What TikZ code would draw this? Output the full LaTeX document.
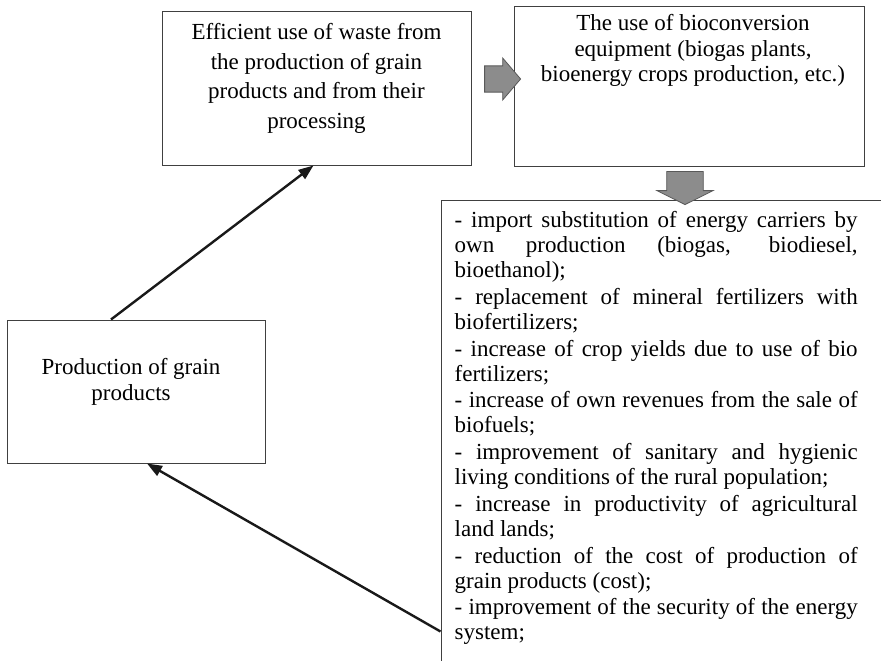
\documentclass[tikz,border=0pt]{standalone}
\usepackage{fontspec}
\setmainfont{Liberation Serif}
\usepackage{tikz}
\usetikzlibrary{arrows.meta,shapes.arrows,positioning}

\begin{document}
\begin{tikzpicture}[x=1pt,y=-1pt,>={Triangle[length=15pt,width=11pt]}]
       \tikzstyle{box}=[draw=black!75, line width=1pt, inner sep=0pt]
       \tikzstyle{boxtext}=[inner sep=0pt, align=center, font=\fontsize{23}{25.5}\selectfont]
       \tikzstyle{listtext}=[inner sep=0pt, text width=403pt, align=justify,
             font=\fontsize{23}{25}\selectfont,
             execute at begin node={\parindent=0pt\parskip=1.7pt\emergencystretch=10pt}]
       \tikzstyle{blockarrow}=[single arrow, draw=black!65, fill=black!45, line width=0.8pt, inner xsep=0pt]
       \tikzstyle{link}=[->, line width=2.4pt, black!90]

       \useasboundingbox (0,0) rectangle (881,661);
       \clip (0,0) rectangle (881,661);

       \node[box, minimum width=309, minimum height=153] (waste)    at (316.5,88.5) {};
       \node[box, minimum width=350, minimum height=159] (bioconv)  at (689,86.5)   {};
       \node[box, minimum width=460, minimum height=500] (effects)  at (671,450)    {};
       \node[box, minimum width=258, minimum height=143] (prod)     at (136,391.5)  {};

       \node[boxtext, font=\fontsize{23}{29.5}\selectfont, below=12pt of waste.north] (wastetext)
             {Efficient use of waste from\\the production of grain\\products and from their\\processing};
       \node[boxtext, below=8pt of bioconv.north, xshift=4pt] (bioconvtext)
             {The use of bioconversion\\equipment (biogas plants,\\bioenergy crops production, etc.)};
       \node[boxtext, font=\fontsize{23}{26}\selectfont, below=39pt of prod.north, xshift=-5pt] (prodtext)
             {Production of grain\\products};
       \node[listtext, below right=12pt and 14pt of effects.north west] (effectstext)
             {- import substitution of energy carriers by\linebreak
              own production (biogas, biodiesel,\linebreak
              bioethanol);\par
              - replacement of mineral fertilizers with\linebreak
              biofertilizers;\par
              - increase of crop yields due to use of bio\linebreak
              fertilizers;\par
              - increase of own revenues from the sale of\linebreak
              biofuels;\par
              - improvement of sanitary and hygienic\linebreak
              living conditions of the rural population;\par
              - increase in productivity of agricultural\linebreak
              land lands;\par
              - reduction of the cost of production of\linebreak
              grain products (cost);\par
              - improvement of the security of the energy\linebreak
              system;\par};

       % block arrows between the boxes
       \node[blockarrow, inner ysep=11.5pt, minimum height=36, minimum width=42,
             single arrow tip angle=99] (toconv) at (497,79) {};
       \node[blockarrow, inner ysep=13pt, minimum height=33, minimum width=56,
             single arrow tip angle=127, rotate=-90] (toeffects) at (685,183.5) {};

       \draw[link] ([xshift=-25pt]prod.north) -- ([xshift=-3pt]waste.south);
       \draw[link] ([yshift=-432pt]effects.north west) -- ([xshift=11pt]prod.south);
\end{tikzpicture}
\end{document}
